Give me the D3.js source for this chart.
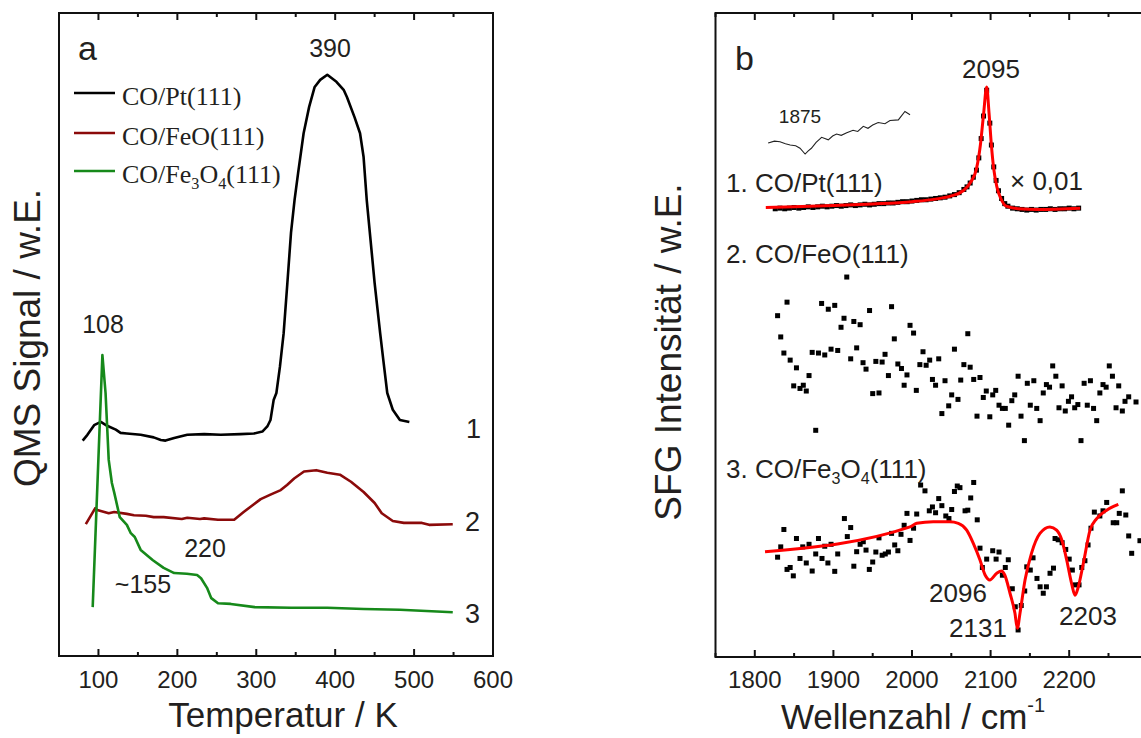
<!DOCTYPE html>
<html>
<head>
<meta charset="utf-8">
<script src="https://cdn.jsdelivr.net/npm/d3@7"></script>
<style>
  body { margin: 0; background: #fff; }
  svg { display: block; }
  text { font-family: "Liberation Sans", Arial, sans-serif; fill: #231f20; }
  .serif { font-family: "Liberation Serif", "Times New Roman", serif; }
</style>
</head>
<body>
<div id="chart"></div>
<script>
// ---- panel a: TPD curves (temperature K, signal a.u.) ----
const ptTemp = [80, 86, 94.5, 103, 111, 122, 128, 136, 153.5, 170, 179, 185, 196, 212.6, 234, 255, 280, 297, 307.7, 314, 318, 322, 325.5, 330, 334.7, 339.4, 344, 348.5, 353, 360, 367, 374, 381, 390, 401.6, 411, 415, 424.5, 431.5, 436, 440, 450, 457, 461, 466, 473, 482, 494];
const ptSignal = [33.5, 34.4, 35.9, 36.4, 35.8, 35.2, 34.7, 34.6, 34.4, 34.0, 33.6, 33.5, 33.9, 34.4, 34.5, 34.4, 34.5, 34.6, 34.9, 35.7, 36.7, 39.8, 40.9, 45.0, 50.2, 58.0, 65.8, 70.9, 75.1, 81.3, 85.4, 88.5, 89.6, 90.4, 89.3, 88.0, 86.9, 83.8, 81.3, 77.6, 70.9, 58.0, 50.2, 46.0, 40.9, 38.3, 36.7, 36.4];

const feoTemp = [84, 96, 98.5, 113, 120, 136, 145, 160, 170, 182.6, 205.6, 212.6, 228.7, 234, 251.5, 272, 284, 297, 305.6, 318, 331, 339, 348, 360.5, 376, 390, 406, 420, 436, 450, 459, 473, 487, 510, 519, 549];
const feoSignal = [20.5, 23.0, 22.7, 22.2, 22.4, 22.1, 21.9, 21.8, 21.6, 21.6, 21.3, 21.5, 21.3, 21.4, 21.2, 21.2, 22.4, 23.6, 24.4, 25.1, 25.8, 26.6, 27.6, 28.7, 28.9, 28.5, 28.2, 27.1, 25.5, 23.8, 22.2, 21.0, 20.7, 20.7, 20.4, 20.5];

const fe3o4Temp = [92.7, 105, 109, 113, 117, 120, 127, 136, 141, 146, 153.5, 169, 182.6, 196, 212, 225, 230, 237.6, 243, 251.5, 267.6, 298, 344, 390, 436, 482, 549];
const fe3o4Signal = [7.6, 46.8, 40.9, 30.5, 26.9, 25.4, 21.6, 20.4, 19.1, 18.5, 16.5, 14.9, 13.7, 12.9, 12.8, 12.6, 12.1, 10.6, 9.0, 8.2, 8.1, 7.6, 7.5, 7.5, 7.3, 7.2, 6.8];

const tempTicks = [100, 200, 300, 400, 500, 600];
const legendNames = ["CO/Pt(111)", "CO/FeO(111)", "CO/Fe3O4(111)"];
const legendColors = ["#000000", "#8b0a0a", "#16891a"];

// ---- panel b: SFG spectra (wavenumber cm-1, intensity a.u.) ----
const s1Wn = [1826, 1832, 1838, 1844, 1850, 1856, 1862, 1868, 1874, 1880, 1886, 1892, 1898, 1904, 1910, 1916, 1922, 1928, 1934, 1940, 1946, 1952, 1958, 1964, 1970, 1976, 1982, 1988, 1994, 2000, 2006, 2012, 2018, 2024, 2030, 2036, 2042, 2048, 2054, 2060, 2066, 2070, 2074, 2078, 2082, 2085, 2088, 2091, 2095, 2099, 2101, 2104, 2107, 2110, 2114, 2118, 2122, 2128, 2134, 2140, 2146, 2152, 2158, 2164, 2170, 2176, 2182, 2188, 2194, 2200, 2206, 2212];
const s1Int = [69.6, 69.7, 69.6, 69.7, 69.8, 69.7, 69.8, 69.9, 69.8, 69.9, 70.0, 69.9, 70.0, 70.1, 70.0, 70.1, 70.2, 70.1, 70.2, 70.3, 70.2, 70.3, 70.4, 70.4, 70.5, 70.5, 70.6, 70.7, 70.7, 70.8, 70.9, 71.0, 71.0, 71.1, 71.2, 71.3, 71.4, 71.6, 71.8, 72.1, 72.6, 73.0, 73.6, 74.5, 75.6, 77.5, 80.5, 84.0, 88.0, 82.9, 79.5, 76.1, 74.0, 72.4, 71.2, 70.4, 70.0, 69.7, 69.6, 69.5, 69.4, 69.5, 69.4, 69.5, 69.5, 69.6, 69.5, 69.6, 69.6, 69.7, 69.6, 69.7];
const fit1Wn = [1814, 1850, 1900, 1950, 2000, 2030, 2050, 2065, 2075, 2082, 2087, 2091, 2095, 2098, 2101, 2104, 2108, 2113, 2120, 2135, 2160, 2214];
const fit1Int = [69.8, 69.9, 70.1, 70.35, 70.7, 71.1, 71.6, 72.4, 73.8, 75.8, 79.5, 84.2, 88.5, 84.5, 79.5, 75.8, 73.0, 71.2, 70.0, 69.6, 69.5, 69.7];

// magnified low-frequency part of spectrum 1 (thin line)
const zoomWn = [1817, 1825, 1832, 1839, 1845, 1852, 1857.5, 1864, 1868, 1872, 1878, 1885, 1893.5, 1899, 1904, 1910, 1917, 1925, 1931, 1938, 1944, 1950, 1957, 1965.6, 1972, 1982.6, 1991, 1997.5];
const zoomInt = [79.8, 80.1, 80.0, 79.7, 79.5, 79.4, 79.0, 78.1, 78.6, 79.0, 79.9, 80.7, 80.3, 80.9, 81.2, 81.0, 81.4, 81.8, 81.6, 82.4, 82.1, 82.6, 83.0, 82.8, 83.3, 83.4, 84.7, 84.2];

const s2Wn = [1917, 1841, 1885, 1893.5, 1901.7, 1829, 1946, 1974, 1913.5, 1926, 1934, 1909.7, 1997.5, 1833, 1977.5, 1837, 1873, 1881, 1889, 1897, 1905.5, 1929.6, 1845, 1922, 1965.7, 1853, 1937.7, 1941.5, 1954, 1962, 1982, 1986.6, 1993.6, 1869, 1970, 1849.5, 1857.5, 1861.7, 1865.5, 1990, 1950, 1958, 1877.5, 2002, 2071, 2014, 2054, 2010, 2018, 2022.5, 2034, 2066, 2074, 2026, 2042, 2062, 2078.5, 2086.5, 2030, 2005.5, 2050.5, 2058.5, 2046.7, 2038, 2135, 2146.7, 2155, 2179, 2183, 2171, 2175, 2191, 2167, 2094.5, 2106.5, 2102.7, 2090.7, 2130.7, 2127, 2110.7, 2115, 2118.7, 2150.5, 2158.7, 2082.7, 2099, 2138.7, 2163, 2123, 2143, 2203, 2199, 2211, 2207, 2187, 2195, 2223, 2231, 2219, 2227, 2235, 2215, 2251, 2255, 2243, 2247, 2263, 2239, 2259.6, 2267.6, 2275.7, 2271, 2285];
const s2Int = [59.0, 55.1, 54.9, 54.0, 54.6, 53.0, 53.8, 54.4, 52.6, 52.1, 51.6, 51.2, 51.5, 49.7, 49.4, 47.2, 47.3, 47.2, 46.9, 47.8, 47.6, 48.0, 46.1, 46.3, 47.0, 44.9, 45.7, 44.7, 45.9, 45.8, 45.5, 44.8, 43.8, 43.7, 43.7, 42.1, 41.7, 42.2, 41.3, 42.2, 40.9, 41.0, 35.2, 50.3, 50.2, 47.4, 47.8, 45.4, 45.3, 46.1, 46.3, 45.4, 45.0, 43.1, 42.9, 43.0, 43.1, 43.4, 42.2, 41.4, 40.7, 40.0, 39.0, 37.8, 43.6, 42.5, 42.9, 45.2, 43.6, 42.3, 41.9, 42.1, 41.0, 41.3, 41.4, 40.7, 40.3, 40.7, 39.8, 39.1, 38.6, 38.6, 39.1, 38.6, 37.4, 37.3, 37.4, 36.7, 36.0, 33.6, 40.4, 39.7, 39.2, 38.7, 38.7, 38.2, 39.1, 38.6, 42.5, 42.9, 36.7, 33.6, 45.2, 43.6, 42.3, 41.9, 42.1, 41.0, 38.7, 38.2, 40.4, 39.7, 39.6];

const s3Wn = [1837, 1914, 1922, 1993.6, 1990, 1833, 1829, 1853, 1861, 1869, 1881, 1889, 1897, 1917.7, 1934, 1938, 1958, 1974, 1986, 1997.5, 1978, 1857.5, 1865.5, 1877.5, 1885.5, 1893, 1905.5, 1929.6, 1941.5, 1954, 1962, 1966, 1970, 1982, 1841, 1845, 1849, 1873, 1901.7, 1926, 1950, 1945.7, 2011, 2016.5, 2057.6, 2061, 2054, 2078.5, 2034, 2038, 2026, 2022, 2030, 2050.5, 2067.5, 2071, 2074.7, 2083, 2043, 2047, 2006, 2002, 2086.5, 2102.7, 2110.7, 2095, 2107, 2122.5, 2089.5, 2118.7, 2115, 2127.6, 2131.4, 2139, 2143.4, 2135, 2154, 2146, 2150.5, 2159, 2163, 2167, 2171, 2175.6, 2180, 2182, 2186, 2191, 2195.6, 2200, 2204, 2208, 2212.5, 2216, 2220, 2224, 2227.7, 2232, 2239, 2243, 2247.7, 2256, 2260.5, 2263.7, 2272, 2267.6, 2275.7, 2279.5, 2290];
const s3Int = [19.8, 21.5, 20.1, 22.3, 20.45, 17.1, 15.5, 18.4, 17.1, 17.5, 18.4, 17.2, 17.5, 18.7, 17.5, 17.9, 18.5, 19.2, 19.05, 18.1, 17.4, 15.3, 14.6, 16.0, 15.3, 14.6, 16.0, 16.35, 16.6, 16.3, 15.8, 16.0, 16.3, 16.5, 13.6, 13.9, 12.6, 13.35, 13.3, 14.1, 14.75, 13.6, 26.7, 25.8, 26.55, 26.3, 25.7, 27.1, 24.6, 23.5, 23.3, 22.7, 22.4, 22.9, 22.7, 22.8, 24.7, 21.3, 21.9, 21.5, 22.2, 20.0, 16.9, 16.5, 16.3, 15.2, 15.2, 15.1, 13.9, 13.9, 12.7, 10.6, 7.8, 8.0, 10.25, 4.2, 15.4, 14.0, 13.5, 12.2, 10.9, 9.9, 10.9, 13.0, 13.8, 18.4, 18.2, 17.75, 16.7, 15.2, 13.5, 11.2, 11.2, 13.9, 14.95, 17.4, 20.0, 22.5, 21.9, 22.7, 24.0, 20.85, 20.85, 22.3, 22.05, 25.8, 18.8, 16.1, 18.06];
const fit3Wn = [1813, 1997.5, 2006, 2027, 2048, 2059, 2069.6, 2078, 2086.5, 2093, 2099, 2107.8, 2114, 2118, 2124.7, 2131, 2134, 2137.4, 2143.8, 2152, 2162.8, 2175.5, 2184, 2190.5, 2196.8, 2203, 2207.4, 2211.6, 2218, 2226.5, 2235, 2247.7, 2262.5];
const fit3Int = [16.35, 20.2, 20.76, 21.0, 21.0, 20.76, 19.7, 17.65, 15.06, 12.73, 11.96, 13.0, 13.35, 12.73, 9.9, 6.79, 4.46, 6.79, 11.96, 16.1, 19.2, 20.2, 19.7, 18.2, 15.06, 11.44, 9.6, 10.9, 14.55, 19.7, 21.5, 22.8, 23.7];

const wnTicks = [1800, 1900, 2000, 2100, 2200];

// ------------------------------------------------------------
const W = 1141, H = 738;
const svg = d3.select("#chart").append("svg")
    .attr("width", W)
    .attr("height", H);

const zip = (xs, ys) => xs.map((x, i) => [x, ys[i]]);

function label(g, str, x, y, size, anchor, cls) {
    return g.append("text")
        .attr("class", cls || null)
        .attr("x", x)
        .attr("y", y)
        .attr("text-anchor", anchor || "start")
        .style("font-size", size + "px")
        .text(str);
}

// text with chemical subscripts written as Fe3O4
function chemLabel(g, parts, x, y, size, cls) {
    let t = g.append("text")
        .attr("class", cls || null)
        .attr("x", x)
        .attr("y", y)
        .style("font-size", size + "px");
    let shifted = false;
    parts.forEach(p => {
        let sub = typeof p === "object";
        let dy = 0;
        if (sub && !shifted) { dy = size * 0.22; shifted = true; }
        if (!sub && shifted) { dy = -size * 0.22; shifted = false; }
        t.append("tspan")
            .attr("dy", dy)
            .style("font-size", sub ? (size * 0.62) + "px" : null)
            .text(sub ? p.s : p);
    });
    return t;
}

function frame(g, x, top, bottom, minorStep, lo, hi) {
    // box
    g.append("rect")
        .attr("x", x.range()[0])
        .attr("y", top)
        .attr("width", x.range()[1] - x.range()[0])
        .attr("height", bottom - top)
        .attr("fill", "none")
        .attr("stroke", "#111")
        .attr("stroke-width", 2);

    // inward ticks on bottom and top, long ones at the hundreds
    let minors = d3.range(lo, hi + 1, minorStep);
    [bottom, top].forEach(edge => {
        let dir = edge === bottom ? -1 : 1;
        g.append("g").selectAll("line")
            .data(minors)
            .enter()
            .append("line")
            .attr("x1", d => x(d))
            .attr("x2", d => x(d))
            .attr("y1", edge)
            .attr("y2", d => edge + dir * (d % 100 === 0 ? 7 : 4))
            .attr("stroke", "#111")
            .attr("stroke-width", 2);
    });
}

// ================= panel a =================
const ga = svg.append("g");
const xA = d3.scaleLinear().domain([50, 600]).range([59, 493]);
const yA = d3.scaleLinear().domain([0, 100]).range([656, 13]);

frame(ga, xA, 13, 656, 50, 50, 600);

ga.append("g").selectAll("text")
    .data(tempTicks)
    .enter()
    .append("text")
    .attr("x", d => xA(d))
    .attr("y", 688)
    .attr("text-anchor", "middle")
    .style("font-size", "24px")
    .text(d => d);

label(ga, "Temperatur / K", 283, 727, 35, "middle");
ga.append("text")
    .attr("transform", "translate(40,338) rotate(-90)")
    .attr("text-anchor", "middle")
    .style("font-size", "37px")
    .text("QMS Signal / w.E.");

const lineA = d3.line().x(d => xA(d[0])).y(d => yA(d[1]));
const seriesA = [zip(ptTemp, ptSignal), zip(feoTemp, feoSignal), zip(fe3o4Temp, fe3o4Signal)];
seriesA.forEach((s, i) => {
    ga.append("path")
        .datum(s)
        .attr("d", lineA)
        .attr("fill", "none")
        .attr("stroke", legendColors[i])
        .attr("stroke-width", 2.6)
        .attr("stroke-linejoin", "round");
});

// legend
const legendY = [93, 133, 171];
legendNames.forEach((n, i) => {
    ga.append("line")
        .attr("x1", 74).attr("x2", 115)
        .attr("y1", legendY[i]).attr("y2", legendY[i])
        .attr("stroke", legendColors[i])
        .attr("stroke-width", 2.6);
});
label(ga, "CO/Pt(111)", 122, 105, 26, "start", "serif");
label(ga, "CO/FeO(111)", 122, 145, 26, "start", "serif");
chemLabel(ga, ["CO/Fe", {s: "3"}, "O", {s: "4"}, "(111)"], 122, 183, 26, "serif");

label(ga, "a", 78, 60, 34);
label(ga, "390", 330, 57, 25, "middle");
label(ga, "108", 103, 333, 25, "middle");
label(ga, "220", 205, 557, 25, "middle");
label(ga, "~155", 143, 593, 25, "middle");
label(ga, "1", 466, 438, 27);
label(ga, "2", 465, 531, 27);
label(ga, "3", 465, 623, 27);

// ================= panel b =================
const gb = svg.append("g");
const xB = d3.scaleLinear().domain([1750, 2350]).range([715.5, 1187.1]);
const yB = d3.scaleLinear().domain([0, 100]).range([657, 13]);

frame(gb, xB, 13, 657, 50, 1750, 2350);

gb.append("g").selectAll("text")
    .data(wnTicks)
    .enter()
    .append("text")
    .attr("x", d => xB(d))
    .attr("y", 688)
    .attr("text-anchor", "middle")
    .style("font-size", "24px")
    .text(d => d);

let xt = label(gb, "Wellenzahl / cm", 913, 729, 35, "middle");
xt.append("tspan")
    .attr("dy", -17)
    .style("font-size", "20px")
    .text("-1");
gb.append("text")
    .attr("transform", "translate(681,352) rotate(-90)")
    .attr("text-anchor", "middle")
    .style("font-size", "37px")
    .text("SFG Intensität / w.E.");

const lineB = d3.line().x(d => xB(d[0])).y(d => yB(d[1]));
const fitLine = d3.line().x(d => xB(d[0])).y(d => yB(d[1])).curve(d3.curveMonotoneX);

function squares(data) {
    gb.append("g").selectAll("rect")
        .data(data)
        .enter()
        .append("rect")
        .attr("x", d => xB(d[0]) - 2.5)
        .attr("y", d => yB(d[1]) - 2.5)
        .attr("width", 5)
        .attr("height", 5)
        .attr("fill", "#000");
}

squares(zip(s1Wn, s1Int));
gb.append("path")
    .datum(zip(fit1Wn, fit1Int))
    .attr("d", fitLine)
    .attr("fill", "none")
    .attr("stroke", "#ff0000")
    .attr("stroke-width", 3);

gb.append("path")
    .datum(zip(zoomWn, zoomInt))
    .attr("d", lineB)
    .attr("fill", "none")
    .attr("stroke", "#222")
    .attr("stroke-width", 1.1);

squares(zip(s2Wn, s2Int));
squares(zip(s3Wn, s3Int));
gb.append("path")
    .datum(zip(fit3Wn, fit3Int))
    .attr("d", fitLine)
    .attr("fill", "none")
    .attr("stroke", "#ff0000")
    .attr("stroke-width", 3);

label(gb, "b", 735, 70, 34);
label(gb, "2095", 991, 78, 26, "middle");
label(gb, "1875", 800, 123, 19, "middle");
label(gb, "1. CO/Pt(111)", 726, 192, 26);
label(gb, "\u00d7 0,01", 1010, 190, 26);
label(gb, "2. CO/FeO(111)", 726, 263, 26);
chemLabel(gb, ["3. CO/Fe", {s: "3"}, "O", {s: "4"}, "(111)"], 726, 478, 26);
label(gb, "2096", 958, 602, 26, "middle");
label(gb, "2131", 978, 637, 26, "middle");
label(gb, "2203", 1088, 625, 26, "middle");
</script>
</body>
</html>
